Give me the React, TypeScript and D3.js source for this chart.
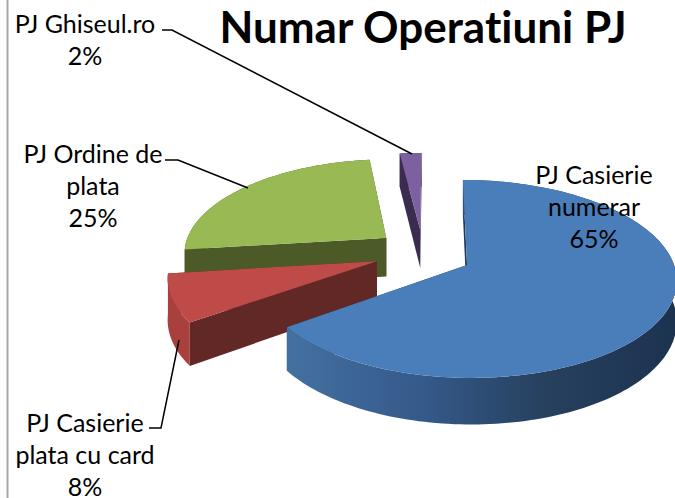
import React from "react";
import * as d3 from "d3";

const title = "Numar Operatiuni PJ";
const categories = ["PJ Casierie numerar", "PJ Casierie plata cu card", "PJ Ordine de plata", "PJ Ghiseul.ro"];
const values = [65, 8, 25, 2];
const topColors = ["#4a7ebb", "#be4b48", "#98b954", "#7d60a0"];
const arcWallColors = ["url(#blueWall)", "#a8403e", "#4b5a26", "#3a2c4e"];
const radialWallColors = ["#1e3a5f", "#622826", "#4b5a26", "#3a2c4e"];
const explodeU = [0.005, -0.432, -0.395, -0.225];
const explodeV = [0, 0.04, 0.29, 0.38];
const paintOrder = [3, 2, 1, 0];

const labelLines = [
  ["PJ Casierie", "numerar", "65%"],
  ["PJ Casierie", "plata cu card", "8%"],
  ["PJ Ordine de", "plata", "25%"],
  ["PJ Ghiseul.ro", "2%"],
];
const labelX = [594, 85, 93, 85];
const labelY = [184, 432, 163, 33];
const leaders: [number, number][][] = [
  [],
  [[149, 428], [161, 428], [179, 340]],
  [[165, 160], [178, 160], [248, 188]],
  [[162, 30], [172, 30], [412, 154]],
];

const CX = 466, CY = 265, R = 207, H = 97, K = 0.141, SKEW = -4, DEPTH = 40;
const FONT = "Lato, 'Open Sans', sans-serif";

function project(u: number, v: number, drop: number): [number, number] {
  const p = 1 / (1 + K * v);
  return [CX + R * u * p + SKEW * v, CY - H * v * p + drop * DEPTH * p];
}

export default function App() {
  const arcs = d3.pie<number>().sort(null)(values);
  const line = d3.line();

  const rim = (i: number, drop: number): [number, number][] => {
    const a = arcs[i];
    const n = Math.max(6, Math.ceil((a.endAngle - a.startAngle) * 40));
    return d3.range(n + 1).map((k) => {
      const t = a.startAngle + ((a.endAngle - a.startAngle) * k) / n;
      return project(explodeU[i] + Math.sin(t), explodeV[i] + Math.cos(t), drop);
    });
  };
  const apex = (i: number, drop: number) => project(explodeU[i], explodeV[i], drop);

  return (
    <svg width={675} height={498} style={{ position: "absolute", left: 0, top: 0, background: "#fff" }}>
      <defs>
        <linearGradient id="blueWall" gradientUnits="userSpaceOnUse" x1={290} x2={675} y1={0} y2={0}>
          <stop offset="0" stopColor="#44709f" />
          <stop offset="0.35" stopColor="#34598a" />
          <stop offset="0.65" stopColor="#27415f" />
          <stop offset="1" stopColor="#1c3350" />
        </linearGradient>
      </defs>
      <line x1={7.5} x2={7.5} y1={0} y2={498} stroke="#a6a6a6" strokeWidth={2} />

      {paintOrder.map((i) => {
        const top = rim(i, 0);
        const bottom = rim(i, 1);
        const last = top.length - 1;
        return (
          <g key={categories[i]}>
            <path d={line([apex(i, 0), top[0], bottom[0], apex(i, 1)]) + "Z"} fill={radialWallColors[i]} />
            <path d={line([apex(i, 0), top[last], bottom[last], apex(i, 1)]) + "Z"} fill={radialWallColors[i]} />
            <path d={line([...top, ...bottom.slice().reverse()]) + "Z"} fill={arcWallColors[i]} />
            <path d={line([apex(i, 0), ...top]) + "Z"} fill={topColors[i]} />
          </g>
        );
      })}

      {leaders.map((pts, i) =>
        pts.length ? <path key={i} d={line(pts) ?? ""} fill="none" stroke="#000" strokeWidth={1.5} /> : null
      )}

      <text
        x={423}
        y={43}
        textAnchor="middle"
        fontFamily={FONT}
        fontWeight={700}
        fontSize={44}
        fill="#000"
        style={{ fontVariantLigatures: "none" }}
      >
        {title}
      </text>

      {labelLines.map((lines, i) => (
        <text key={i} textAnchor="middle" fontFamily={FONT} fontSize={25} fill="#000" style={{ fontVariantLigatures: "none" }}>
          {lines.map((s, j) => (
            <tspan key={j} x={labelX[i]} y={labelY[i] + j * 32}>
              {s}
            </tspan>
          ))}
        </text>
      ))}
    </svg>
  );
}
